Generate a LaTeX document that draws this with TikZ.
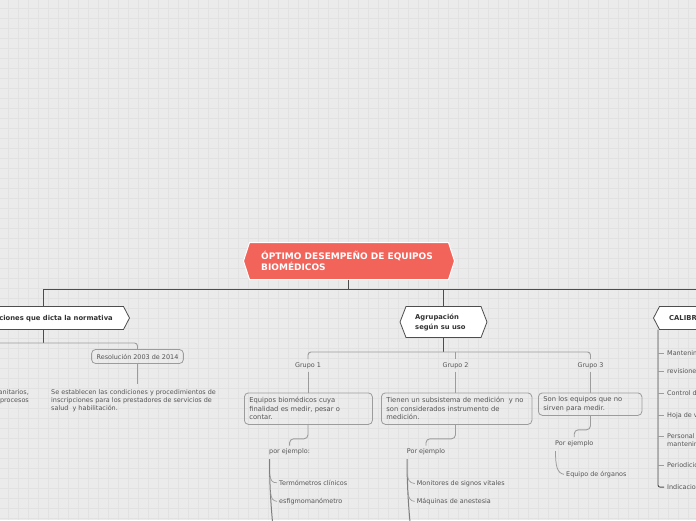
\documentclass[tikz,border=0pt]{standalone}
\usepackage{fontspec}
\setmainfont{DejaVu Sans}
\usetikzlibrary{calc}
\definecolor{bgc}{HTML}{EBEBEB}
\definecolor{gridc}{HTML}{E2E2E2}
\definecolor{mainred}{HTML}{F2635A}
\definecolor{txtc}{HTML}{555555}
\definecolor{darktxt}{HTML}{333333}
\definecolor{lined}{HTML}{4D4D4D}
\definecolor{linel}{HTML}{9C9C9C}
\definecolor{spinec}{HTML}{7F7F7F}
\tikzset{
 dk/.style={draw=lined, line width=0.9},
 lt/.style={draw=linel, line width=0.9},
 sp/.style={draw=spinec, line width=1},
 sm/.style={font=\fontsize{6.45}{8.5}\selectfont, text=txtc, inner sep=0, align=left},
 boldtxt/.style={font=\bfseries\fontsize{6.8}{9.4}\selectfont, text=darktxt, inner sep=0, align=left},
 tbox/.style={sm, draw=linel, line width=0.8, rounded corners=4, inner xsep=5, inner ysep=0},
 boxtxt/.style={font=\fontsize{6.75}{8.5}\selectfont},
 topic/.style={fill=white, draw=lined, line width=0.8},
}
\begin{document}
\begin{tikzpicture}[x=1pt,y=-1pt]
\useasboundingbox (0,0) rectangle (696,520);
\clip (0,0) rectangle (696,520);
\fill[bgc] (0,0) rectangle (696,520);
\foreach \i in {0,...,69} \draw[gridc, line width=0.7] (8+10*\i,0) -- (8+10*\i,520);
\foreach \j in {0,...,51} \draw[gridc, line width=0.7] (0,8+10*\j) -- (696,8+10*\j);

% central topic
\filldraw[fill=mainred, draw=white, line width=1] (243.5,261) -- (249.5,242.5) -- (448.5,242.5) -- (454.5,261) -- (448.5,279.5) -- (249.5,279.5) -- cycle;
\node[font=\bfseries\fontsize{9}{11}\selectfont, text=white, inner sep=0, align=left, anchor=base west] (central) at (261,270.3) {ÓPTIMO DESEMPEÑO DE EQUIPOS\\BIOMÉDICOS};
\coordinate (cb) at (348,279.5);
\coordinate (bus) at (348,289);
\coordinate (n1t) at (43,306.5);
\coordinate (n2t) at (443,306.5);
\coordinate (busR) at (705,289);
\draw[dk] (cb) -- (bus);
\draw[dk] (n1t) |- (busR);
\draw[dk] (n2t) -- (n2t |- bus);

% left topic
\filldraw[topic] (-10,306.5) -- (123.5,306.5) -- (129.5,318) -- (123.5,329.5) -- (-10,329.5) -- cycle;
\node[boldtxt, anchor=base east] (cond) at (113,320) {Condiciones que dicta la normativa};
\coordinate (n1b) at (43,329.5);
\coordinate (n1bus) at (43,343);
\coordinate (n1left) at (-5,343);
\draw[dk] (n1b) -- (n1bus);
\node[tbox, minimum width=91, minimum height=14] (res) at (137.5,356.5) {Resolución 2003 de 2014};
\draw[lt, rounded corners=3] (n1left) -| (res.north);
\node[sm, anchor=base west, font=\fontsize{6.45}{8}\selectfont] (par) at (51,410) {Se establecen las condiciones y procedimientos de\\inscripciones para los prestadores de servicios de\\salud~ y habilitación.};
\coordinate (parin) at (137.5,383.5);
\draw[lt] (res.south) -- (parin);
\node[sm, anchor=base east] (lp1) at (29,394) {anitarios,};
\node[sm, anchor=base east] (lp2) at (29,402) {procesos};

% Agrupacion
\filldraw[topic] (400,322) -- (406,306.5) -- (481,306.5) -- (487,322) -- (481,337.5) -- (406,337.5) -- cycle;
\node[boldtxt, anchor=base west] (agr) at (415,329) {Agrupación\\según su uso};
\coordinate (agb) at (443,337.5);
\coordinate (agbus) at (443,352);
\draw[dk] (agb) -- (agbus);
\node[sm, anchor=base] (g1) at (308,367) {Grupo 1};
\node[sm, anchor=base] (g2) at (455.5,367) {Grupo 2};
\node[sm, anchor=base] (g3) at (590.5,367) {Grupo 3};
\draw[lt, rounded corners=3] ([yshift=3pt]g1.north) |- (agbus) -| ([yshift=3pt]g3.north);
\draw[lt] ([yshift=3pt]g2.north) -- (g2.north |- agbus);

\node[tbox, boxtxt, anchor=north west, minimum height=31.5, text width=118] (b1) at (244,392.5) {Equipos biomédicos cuya\\finalidad es medir, pesar o\\contar.};
\node[tbox, boxtxt, anchor=north west, minimum height=31.5, text width=140.5] (b2) at (381,392.5) {Tienen un subsistema de medición~ y no\\son considerados instrumento de\\medición.};
\node[tbox, boxtxt, anchor=north west, minimum height=22.5, text width=93.5] (b3) at (538,392.5) {Son los equipos que no\\sirven para medir.};
\draw[lt] ([yshift=-3pt]g1.south) -- (g1.south |- b1.north);
\draw[lt] ([yshift=-3pt]g2.south) -- (g2.south |- b2.north);
\draw[lt] ([yshift=-3pt]g3.south) -- (g3.south |- b3.north);

% group 1 examples
\node[sm, anchor=base west] (pe1) at (269,453.7) {por ejemplo:};
\draw[lt, rounded corners=4] (g1.south |- b1.south) -- ++(0,14) -| ([yshift=3pt]pe1.north);
\coordinate (s1a) at (269.5,459);
\coordinate (s1b) at (272.5,522);
\draw[sp] (s1a) .. controls (269.5,485) and (271,505) .. (s1b);
\node[sm, anchor=base west] (t11) at (279,485.3) {Termómetros clínicos};
\node[sm, anchor=base west] (t12) at (279,503.3) {esfigmomanómetro};
\draw[lt, line width=0.7] (269.8,474) .. controls (270.3,480) and (272,483) .. ([xshift=-2pt]t11.west);
\draw[lt, line width=0.7] (270.6,492) .. controls (271,498) and (272.5,501) .. ([xshift=-2pt]t12.west);

% group 2 examples
\node[sm, anchor=base west] (pe2) at (406.7,453.7) {Por ejemplo};
\draw[lt, rounded corners=4] (g2.south |- b2.south) -- ++(0,14) -| ([yshift=3pt]pe2.north);
\coordinate (s2a) at (407,459);
\coordinate (s2b) at (410,522);
\draw[sp] (s2a) .. controls (407,485) and (408.5,505) .. (s2b);
\node[sm, anchor=base west] (t21) at (416.7,485.3) {Monitores de signos vitales};
\node[sm, anchor=base west] (t22) at (416.7,503.3) {Máquinas de anestesia};
\draw[lt, line width=0.7] (407.3,474) .. controls (407.8,480) and (409.5,483) .. ([xshift=-2pt]t21.west);
\draw[lt, line width=0.7] (408.1,492) .. controls (408.5,498) and (410,501) .. ([xshift=-2pt]t22.west);

% group 3 examples
\node[sm, anchor=base west] (pe3) at (555,445.3) {Por ejemplo};
\draw[lt, rounded corners=4] (g3.south |- b3.south) -- ++(0,14) -| ([yshift=3pt]pe3.north);
\node[sm, anchor=base west] (t31) at (566,476.3) {Equipo de órganos};
\coordinate (s3a) at (555.5,451);
\draw[lt, line width=0.8] (s3a) .. controls (555.5,466) and (557,473) .. ([xshift=-2pt]t31.west);

% CALIBRACION
\filldraw[topic] (653.5,318) -- (659.5,306.5) -- (705,306.5) -- (705,329.5) -- (659.5,329.5) -- cycle;
\node[boldtxt, anchor=base west] (cal) at (669,320.3) {CALIBRACIÓN};
\coordinate (calb) at (658,329.5);
\node[sm, anchor=base west] (c1) at (667,355.5) {Mantenimiento preventivo};
\node[sm, anchor=base west] (c2) at (667,373.5) {revisiones};
\node[sm, anchor=base west] (c3) at (667,395) {Control de calidad};
\node[sm, anchor=base west] (c4) at (667,417) {Hoja de vida};
\node[sm, anchor=base west, font=\fontsize{6.45}{7.7}\selectfont] (c5) at (667,446.5) {Personal encargado del\\mantenimiento};
\node[sm, anchor=base west] (c6) at (667,467.5) {Periodicidad};
\node[sm, anchor=base west] (c7) at (667,489.5) {Indicaciones};
\draw[dk, rounded corners=2] (calb) |- ([xshift=-3pt]c7.west);
\foreach \c in {c1,c2,c3,c4,c6}{
  \coordinate (tk) at ($(\c.base west)+(-3,-2)$);
  \draw[lt] (calb |- tk) -- (tk);
}
\coordinate (tk5) at ($(c5.base west)+(-3,-9.7)$);
\draw[lt] (calb |- tk5) -- (tk5);
\end{tikzpicture}
\end{document}
